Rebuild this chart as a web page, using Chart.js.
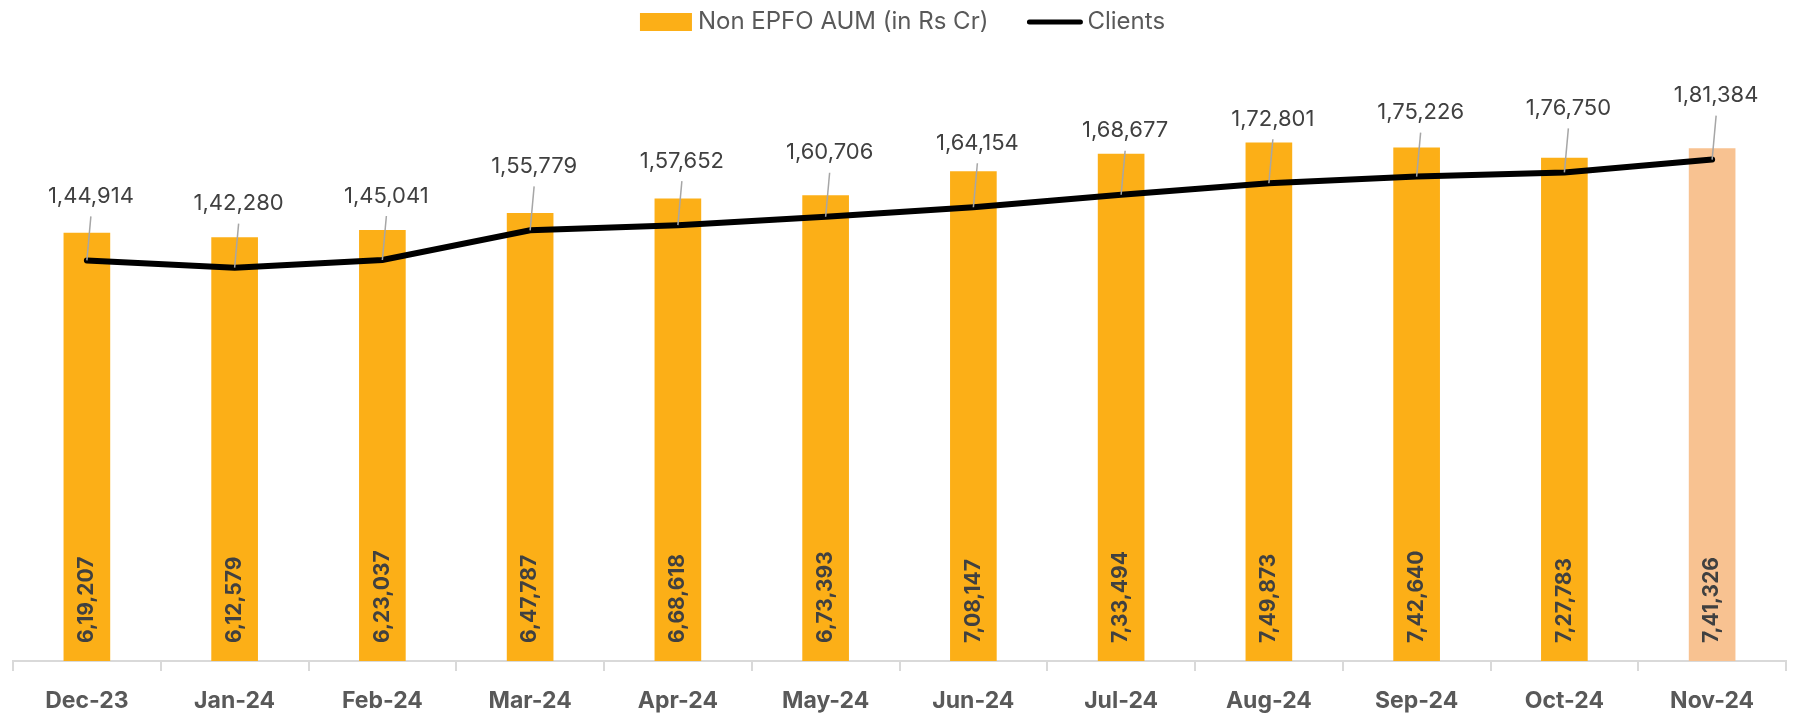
<!DOCTYPE html>
<html>
<head>
<meta charset="utf-8">
<script src="https://cdn.jsdelivr.net/npm/chart.js@4/dist/chart.umd.min.js"></script>
<style>
  html, body { margin: 0; padding: 0; background: #fff; }
  #wrap { width: 1795px; height: 716px; }
</style>
</head>
<body>
<div id="wrap"><canvas id="myChart"></canvas></div>
<script>
const months = ['Dec-23', 'Jan-24', 'Feb-24', 'Mar-24', 'Apr-24', 'May-24', 'Jun-24', 'Jul-24', 'Aug-24', 'Sep-24', 'Oct-24', 'Nov-24'];
const aum = [619207, 612579, 623037, 647787, 668618, 673393, 708147, 733494, 749873, 742640, 727783, 741326];
const clients = [144914, 142280, 145041, 155779, 157652, 160706, 164154, 168677, 172801, 175226, 176750, 181384];
const seriesNames = ['Non EPFO AUM (in Rs Cr)', 'Clients'];

const FONT = 'Inter, "Noto Sans", sans-serif';
const BAR = '#fcaf17';
const barColors = aum.map((v, i) => i == aum.length - 1 ? '#f8c291' : BAR);

function fmtIN(n) {
  return n.toLocaleString('en-IN');
}

// value labels: vertical ones in the bars, call-outs above the line
const labelPlugin = {
  id: 'labels',
  afterDatasetsDraw(chart) {
    const ctx = chart.ctx;
    const bars = chart.getDatasetMeta(0).data;
    const pts = chart.getDatasetMeta(1).data;
    const zero = chart.scales.y.getPixelForValue(0);

    ctx.save();
    ctx.fillStyle = '#404040';
    ctx.font = 'bold 21px ' + FONT;
    ctx.textAlign = 'left';
    ctx.textBaseline = 'middle';
    bars.forEach((bar, i) => {
      ctx.save();
      ctx.translate(bar.x, zero - 18);
      ctx.rotate(-Math.PI / 2);
      ctx.fillText(fmtIN(aum[i]), 0, 0);
      ctx.restore();
    });

    ctx.font = '22px ' + FONT;
    ctx.textAlign = 'center';
    ctx.textBaseline = 'middle';
    pts.forEach((p, i) => {
      ctx.strokeStyle = '#a6a6a6';
      ctx.lineWidth = 1.5;
      ctx.beginPath();
      ctx.moveTo(p.x + 4, p.y - 44);
      ctx.lineTo(p.x, p.y);
      ctx.stroke();
      ctx.fillStyle = '#404040';
      ctx.fillText(fmtIN(clients[i]), p.x + 4, p.y - 64);
    });
    ctx.restore();
  }
};

// legend drawn by hand so the gaps match
const legendPlugin = {
  id: 'ownLegend',
  afterDraw(chart) {
    const ctx = chart.ctx;
    ctx.save();
    ctx.font = '24px ' + FONT;
    ctx.textBaseline = 'middle';
    ctx.textAlign = 'left';
    const w1 = ctx.measureText(seriesNames[0]).width;
    const w2 = ctx.measureText(seriesNames[1]).width;
    const total = 52 + 6 + w1 + 38 + 57 + 4 + w2;
    let x = chart.width / 2 + 5 - total / 2;
    const y = 22;

    ctx.fillStyle = BAR;
    ctx.fillRect(x, y - 9, 52, 18);
    x += 52 + 6;
    ctx.fillStyle = '#595959';
    ctx.fillText(seriesNames[0], x, y);
    x += w1 + 38;

    ctx.strokeStyle = '#000';
    ctx.lineWidth = 5;
    ctx.lineCap = 'round';
    ctx.beginPath();
    ctx.moveTo(x + 3, y);
    ctx.lineTo(x + 54, y);
    ctx.stroke();
    x += 57 + 4;
    ctx.fillText(seriesNames[1], x, y);
    ctx.restore();
  }
};

const data = {
  labels: months,
  datasets: [
    {
      type: 'bar',
      label: seriesNames[0],
      data: aum,
      yAxisID: 'y',
      backgroundColor: barColors,
      barThickness: 46,
      order: 1
    },
    {
      type: 'line',
      label: seriesNames[1],
      data: clients,
      yAxisID: 'y2',
      borderColor: '#000',
      backgroundColor: '#000',
      borderWidth: 6,
      borderCapStyle: 'round',
      pointRadius: 0,
      tension: 0,
      order: 0
    }
  ]
};

const config = {
  type: 'bar',
  data: data,
  options: {
    responsive: false,
    animation: false,
    layout: { padding: { left: 13, right: 9, top: 39, bottom: 0 } },
    plugins: {
      tooltip: { enabled: false },
      legend: { display: false }
    },
    scales: {
      x: {
        offset: true,
        grid: { display: true, drawOnChartArea: false, drawTicks: true, tickLength: 10, color: '#d9d9d9', lineWidth: 2, offset: true },
        border: { display: true, color: '#d9d9d9', width: 2 },
        ticks: { color: '#595959', padding: 16, font: { family: FONT, size: 23, weight: 'bold' } },
        afterFit(scale) { scale.height = 55; }
      },
      y: { display: false, min: 0, max: 900000 },
      y2: { display: false, min: 0, max: 225000, position: 'right' }
    }
  },
  plugins: [labelPlugin, legendPlugin]
};

var canvas = document.getElementById('myChart');
canvas.width = 1795;
canvas.height = 716;
var myChart = new Chart(canvas.getContext('2d'), config);
</script>
</body>
</html>
